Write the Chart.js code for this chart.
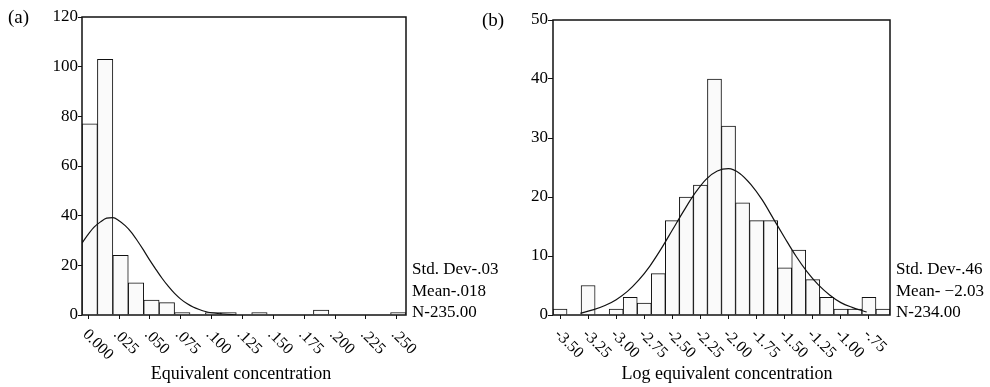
<!DOCTYPE html>
<html>
<head>
<meta charset="utf-8">
<script src="https://cdn.jsdelivr.net/npm/chart.js@4.4.1/dist/chart.umd.min.js"></script>
<style>
	html, body { margin: 0; padding: 0; background: #fff; }
	.wrap { position: relative; width: 990px; height: 387px; }
	canvas { position: absolute; left: 0; top: 0; }
</style>
</head>
<body>
<div class="wrap">
	<canvas id="histA" width="990" height="387"></canvas>
	<canvas id="histB" width="990" height="387"></canvas>
</div>
<script>
// (a) raw concentration
const binsA = [0.00125, 0.01375, 0.02625, 0.03875, 0.05125, 0.06375, 0.07625, 0.08875, 0.10125, 0.11375, 0.12625,
	0.13875, 0.15125, 0.16375, 0.17625, 0.18875, 0.20125, 0.21375, 0.22625, 0.23875, 0.25125];
const countsA = [77, 103, 24, 13, 6, 5, 1, 0, 1, 1, 0, 1, 0, 0, 0, 2, 0, 0, 0, 0, 1];
const curveAx = [-0.005, 0, 0.005, 0.01, 0.015, 0.02, 0.025, 0.03, 0.035, 0.04, 0.045, 0.05, 0.055, 0.06,
	0.065, 0.07, 0.075, 0.08, 0.085, 0.09, 0.095, 0.1, 0.105, 0.11, 0.12];
const curveAy = [29, 32.5, 35.5, 37.5, 39, 39.2, 38, 36, 33.3, 29.8, 26, 22, 18.3, 14.7,
	11.5, 8.7, 6.4, 4.6, 3.2, 2.2, 1.4, 0.9, 0.6, 0.4, 0.1];
const xTicksA = [0, 0.025, 0.05, 0.075, 0.1, 0.125, 0.15, 0.175, 0.2, 0.225, 0.25];
const xLabelsA = ['0.000', '.025', '.050', '.075', '.100', '.125', '.150', '.175', '.200', '.225', '.250'];
const yTicksA = [0, 20, 40, 60, 80, 100, 120];
const statsA = ['Std. Dev-.03', 'Mean-.018', 'N-235.00'];

// (b) log concentration
const binsB = [-3.5, -3.375, -3.25, -3.125, -3.0, -2.875, -2.75, -2.625, -2.5, -2.375, -2.25, -2.125,
	-2.0, -1.875, -1.75, -1.625, -1.5, -1.375, -1.25, -1.125, -1.0, -0.875, -0.75, -0.625];
const countsB = [1, 0, 5, 0, 1, 3, 2, 7, 16, 20, 22, 40, 32, 19, 16, 16, 8, 11, 6, 3, 1, 1, 3, 1];
const curveBx = [-3.32, -3.2, -3.1, -3.0, -2.9, -2.8, -2.7, -2.6, -2.5, -2.4, -2.3, -2.2, -2.1, -2.0,
	-1.9, -1.8, -1.7, -1.6, -1.5, -1.4, -1.3, -1.2, -1.1, -1.0, -0.9, -0.77];
const curveBy = [0.3, 0.9, 1.6, 2.6, 4.0, 5.9, 8.3, 11.2, 14.4, 17.6, 20.6, 23.0, 24.4, 24.8,
	24.0, 22.1, 19.5, 16.3, 13.1, 10.0, 7.3, 5.1, 3.4, 2.1, 1.3, 0.5];
const xTicksB = [-3.5, -3.25, -3.0, -2.75, -2.5, -2.25, -2.0, -1.75, -1.5, -1.25, -1.0, -0.75];
const xLabelsB = ['-3.50', '-3.25', '-3.00', '-2.75', '-2.50', '-2.25', '-2.00', '-1.75', '-1.50', '-1.25', '-1.00', '-.75'];
const yTicksB = [0, 10, 20, 30, 40, 50];
const statsB = ['Std. Dev-.46', 'Mean- \u22122.03', 'N-234.00'];

const serif = "'Liberation Serif', 'Times New Roman', serif";
Chart.defaults.font.family = serif;
Chart.defaults.color = '#000';

// frame, rotated x labels, side stats and titles
const decorations = {
	id: 'decorations',
	afterDraw(chart, args, opts) {
		const { ctx, chartArea: area, scales } = chart;
		ctx.save();
		ctx.strokeStyle = '#111';
		ctx.lineWidth = 1.5;
		ctx.strokeRect(area.left, area.top, area.right - area.left, area.bottom - area.top);

		ctx.fillStyle = '#000';
		ctx.font = `16px ${serif}`;
		ctx.textAlign = 'left';
		ctx.textBaseline = 'alphabetic';
		opts.ticks.forEach((v, i) => {
			const x = scales.x.getPixelForValue(v);
			ctx.save();
			ctx.translate(x - 6, area.bottom + 20);
			ctx.rotate(Math.PI / 4);
			ctx.fillText(opts.labels[i], 0, 0);
			ctx.restore();
		});

		ctx.font = `17px ${serif}`;
		ctx.textBaseline = 'middle';
		opts.stats.forEach((s, i) => {
			ctx.fillText(s, area.right + 6, 270 + i * 21.5);
		});

		ctx.font = `18px ${serif}`;
		ctx.textAlign = 'center';
		ctx.fillText(opts.title, opts.titleX, 374);

		ctx.font = `19px ${serif}`;
		ctx.textAlign = 'left';
		ctx.fillText(opts.panel, opts.panelX, area.top + 1);
		ctx.restore();
	}
};

function makeHistogram(id, p) {
	const canvas = document.getElementById(id);
	return new Chart(canvas, {
		type: 'bar',
		data: {
			datasets: [
				{
					type: 'line',
					data: p.curveX.map((x, i) => ({ x, y: p.curveY[i] })),
					borderColor: '#111',
					borderWidth: 1.2,
					pointRadius: 0,
					cubicInterpolationMode: 'monotone',
					fill: false,
					order: 0
				},
				{
					data: p.bins.map((x, i) => ({ x, y: p.counts[i] })),
					backgroundColor: '#fafafa',
					borderColor: '#111',
					borderWidth: 1,
					barPercentage: 1,
					categoryPercentage: 1,
					order: 1
				}
			]
		},
		options: {
			responsive: false,
			animation: false,
			devicePixelRatio: 1,
			layout: { padding: p.padding },
			plugins: {
				legend: { display: false },
				tooltip: { enabled: false },
				decorations: {
					ticks: p.xTicks, labels: p.xLabels, stats: p.stats,
					title: p.title, titleX: p.titleX, panel: p.panel, panelX: p.panelX
				}
			},
			scales: {
				x: {
					type: 'linear',
					min: p.xMin,
					max: p.xMax,
					offset: false,
					afterBuildTicks: s => { s.ticks = p.xTicks.map(v => ({ value: v })); },
					afterFit: s => { s.height = 72; },
					ticks: { display: false },
					border: { display: false },
					grid: { offset: false, drawOnChartArea: false, drawTicks: true, tickLength: 4, color: '#111' }
				},
				y: {
					min: 0,
					max: p.yMax,
					afterBuildTicks: s => { s.ticks = p.yTicks.map(v => ({ value: v })); },
					afterFit: s => { s.width = p.yWidth; },
					ticks: { padding: 0, font: { size: 17, family: serif }, color: '#000' },
					border: { display: false },
					grid: { drawOnChartArea: false, drawTicks: true, tickLength: p.tickLen, color: '#111' }
				}
			}
		},
		plugins: [decorations]
	});
}

makeHistogram('histA', {
	bins: binsA, counts: countsA, curveX: curveAx, curveY: curveAy,
	xTicks: xTicksA, xLabels: xLabelsA, yTicks: yTicksA, stats: statsA,
	xMin: -0.005, xMax: 0.2575, yMax: 120,
	padding: { top: 17, right: 584, bottom: 0, left: 0 }, yWidth: 82, tickLen: 4,
	title: 'Equivalent concentration', titleX: 241, panel: '(a)', panelX: 8
});

makeHistogram('histB', {
	bins: binsB, counts: countsB, curveX: curveBx, curveY: curveBy,
	xTicks: xTicksB, xLabels: xLabelsB, yTicks: yTicksB, stats: statsB,
	xMin: -3.5625, xMax: -0.5625, yMax: 50,
	padding: { top: 20, right: 100, bottom: 0, left: 0 }, yWidth: 553, tickLen: 5,
	title: 'Log equivalent concentration', titleX: 727, panel: '(b)', panelX: 482
});
</script>
</body>
</html>
